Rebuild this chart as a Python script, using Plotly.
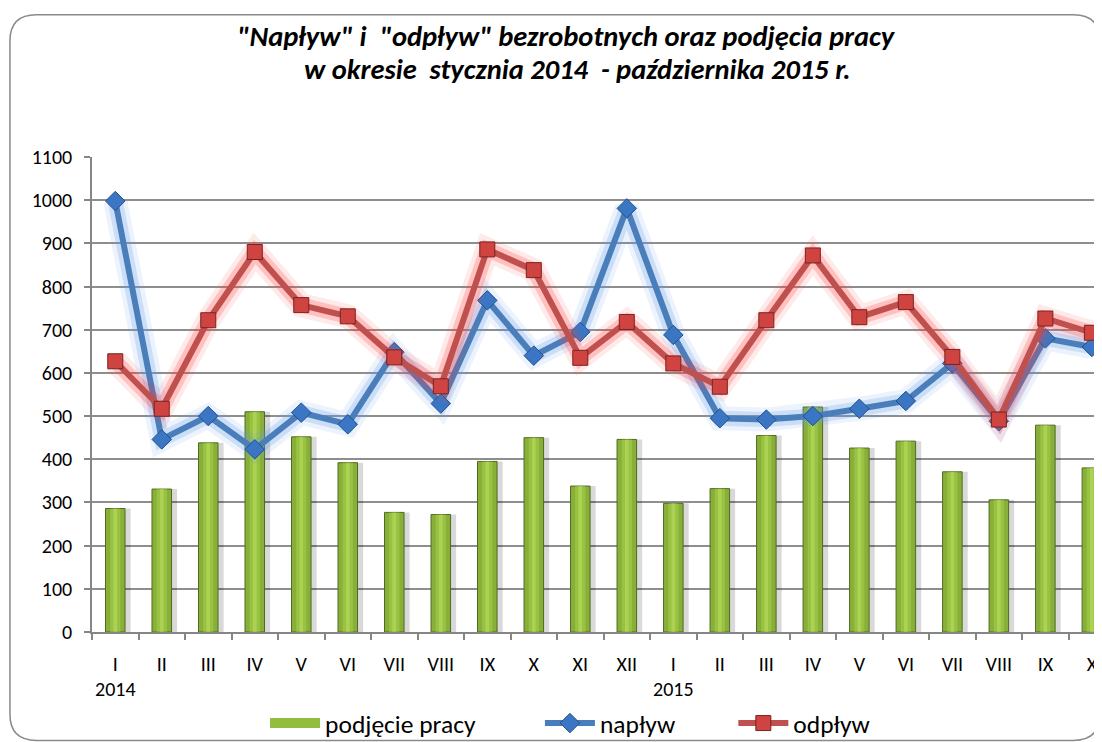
import plotly.graph_objects as go

months = ["I", "II", "III", "IV", "V", "VI", "VII", "VIII", "IX", "X", "XI", "XII",
          "I", "II", "III", "IV", "V", "VI", "VII", "VIII", "IX", "X"]
years = [2014] * 12 + [2015] * 10
podjecie_pracy = [286, 331, 438, 510, 452, 392, 277, 272, 395, 450, 338, 446,
                  298, 332, 455, 521, 426, 442, 371, 306, 479, 380]
naplyw = [998, 446, 500, 423, 508, 481, 648, 529, 768, 640, 695, 981,
          688, 495, 492, 500, 517, 535, 622, 488, 680, 660]
odplyw = [627, 517, 722, 880, 757, 731, 636, 569, 886, 838, 635, 718,
          622, 568, 722, 872, 729, 764, 637, 492, 726, 693]

title_lines = ['"Napływ" i  "odpływ" bezrobotnych oraz podjęcia pracy',
               'w okresie  stycznia 2014  - października 2015 r.']

FONT = "Calibri, Carlito, 'Liberation Sans', Arial, sans-serif"

cats = [f"{m} {y}" for m, y in zip(months, years)]

fig = go.Figure()

# bar shadow
fig.add_trace(go.Bar(x=cats, y=podjecie_pracy, width=0.46, offset=-0.13,
                     marker=dict(color="rgba(0,0,0,0.15)", line=dict(width=0)),
                     showlegend=False, hoverinfo="skip"))
# bars
fig.add_trace(go.Bar(x=cats, y=podjecie_pracy, name="podjęcie pracy", width=0.42,
                     marker=dict(color="#88b038", line=dict(color="#4f6a22", width=1)),
                     showlegend=False))
# highlight inside bars
fig.add_trace(go.Bar(x=cats, y=podjecie_pracy, width=0.22,
                     marker=dict(color="rgba(175,215,80,0.45)", line=dict(width=0)),
                     showlegend=False, hoverinfo="skip"))
fig.add_trace(go.Bar(x=cats, y=podjecie_pracy, width=0.08,
                     marker=dict(color="rgba(200,235,110,0.4)", line=dict(width=0)),
                     showlegend=False, hoverinfo="skip"))
# legend entry for bars (wide rectangle look)
fig.add_trace(go.Scatter(x=[None], y=[None], mode="lines", name="podjęcie pracy",
                         line=dict(color="#92bd3e", width=14), legend="legend"))

# glow + lines
for w, a in [(24, 0.12), (15, 0.24)]:
    fig.add_trace(go.Scatter(x=cats, y=naplyw, mode="lines",
                             line=dict(color=f"rgba(100,155,235,{a})", width=w),
                             showlegend=False, hoverinfo="skip"))
fig.add_trace(go.Scatter(x=cats, y=naplyw, name="napływ", mode="lines+markers",
                         line=dict(color="#4a7ebb", width=6),
                         marker=dict(symbol="diamond", size=15, color="#3a76c4",
                                     line=dict(color="#24508a", width=1)),
                         legend="legend2"))
for w, a in [(24, 0.11), (15, 0.24)]:
    fig.add_trace(go.Scatter(x=cats, y=odplyw, mode="lines",
                             line=dict(color=f"rgba(255,60,60,{a})", width=w),
                             showlegend=False, hoverinfo="skip"))
fig.add_trace(go.Scatter(x=cats, y=odplyw, name="odpływ", mode="lines+markers",
                         line=dict(color="#c0504d", width=6),
                         marker=dict(symbol="square", size=15, color="#cf4440",
                                     line=dict(color="#7a2220", width=1)),
                         legend="legend3"))

# year labels under first month of each year
for i, (m, y) in enumerate(zip(months, years)):
    if i == 0 or years[i - 1] != y:
        fig.add_annotation(x=cats[i], y=-0.121, xref="x", yref="paper",
                           text=str(y), showarrow=False, yanchor="middle",
                           font=dict(size=20, color="#000000", family=FONT))

# title (two lines)
for txt, tx, ty in zip(title_lines, [0.4666, 0.4774], [1.2532, 1.1838]):
    fig.add_annotation(text=f"<b><i>{txt}</i></b>", x=tx, y=ty, xref="paper", yref="paper",
                       xanchor="center", yanchor="middle", showarrow=False,
                       font=dict(size=28.5, color="#000000", family=FONT))

# outer rounded frame
L, R, T, B = -0.0806, 0.990, 1.2995, -0.2283
rx, ry = 0.026, 0.055
path = (f"M {L+rx},{T} L {R-rx},{T} Q {R},{T} {R},{T-ry} L {R},{B+ry} "
        f"Q {R},{B} {R-rx},{B} L {L+rx},{B} Q {L},{B} {L},{B+ry} L {L},{T-ry} "
        f"Q {L},{T} {L+rx},{T} Z")
fig.add_shape(type="path", path=path, xref="paper", yref="paper",
              line=dict(color="#8a8a8a", width=1.5), layer="below")

leg_common = dict(orientation="h", xanchor="left", y=-0.1926, yanchor="middle",
                  font=dict(size=25.5, color="#000000", family=FONT),
                  itemwidth=50, bgcolor="rgba(0,0,0,0)")

fig.update_layout(
    width=1102, height=742,
    margin=dict(l=84, r=0, t=149.3, b=117.5, autoexpand=False),
    paper_bgcolor="white", plot_bgcolor="white",
    barmode="overlay",
    font=dict(family=FONT, color="#000000", size=20),
    legend=dict(x=0.170, **leg_common),
    legend2=dict(x=0.440, **leg_common),
    legend3=dict(x=0.630, **leg_common),
    showlegend=True,
)
fig.update_xaxes(type="category", range=[-0.5, 21.39], tickmode="array",
                 tickvals=cats, ticktext=months, tickson="boundaries",
                 ticks="outside", ticklen=6, tickcolor="#868686", tickwidth=1.5,
                 showline=True, linecolor="#868686", linewidth=1.5,
                 showgrid=False, tickfont=dict(size=20, color="#000000"),
                 ticklabelstandoff=13)
fig.update_yaxes(range=[0, 1100], dtick=100, tick0=0,
                 ticks="outside", ticklen=6, tickcolor="#868686", tickwidth=1.5,
                 showline=True, linecolor="#868686", linewidth=1.5,
                 showgrid=True, gridcolor="#8e8e8e", gridwidth=1.5,
                 zeroline=False, tickfont=dict(size=20, color="#000000"),
                 ticklabelstandoff=8)

fig.write_html("out.html")
